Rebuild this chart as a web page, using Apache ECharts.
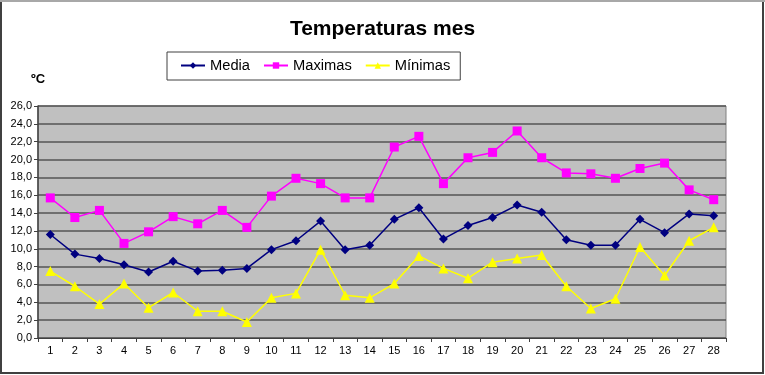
<!DOCTYPE html>
<html>
<head>
<meta charset="utf-8">
<script src="https://cdn.jsdelivr.net/npm/echarts@6/dist/echarts.min.js"></script>
<style>
html,body{margin:0;padding:0;background:#fff;}
#chart{width:765px;height:375px;}
</style>
</head>
<body>
<div id="chart"></div>
<script>
const days = ['1','2','3','4','5','6','7','8','9','10','11','12','13','14','15','16','17','18','19','20','21','22','23','24','25','26','27','28'];
const media = [11.6,9.4,8.9,8.2,7.4,8.6,7.5,7.6,7.8,9.9,10.9,13.1,9.9,10.4,13.3,14.6,11.1,12.6,13.5,14.9,14.1,11.0,10.4,10.4,13.3,11.8,13.9,13.7];
const maximas = [15.7,13.5,14.3,10.6,11.9,13.6,12.8,14.3,12.4,15.9,17.9,17.3,15.7,15.7,21.4,22.6,17.3,20.2,20.8,23.2,20.2,18.5,18.4,17.9,19.0,19.6,16.6,15.5];
const minimas = [7.5,5.8,3.8,6.1,3.4,5.1,3.0,3.0,1.8,4.5,5.0,9.9,4.8,4.5,6.1,9.2,7.8,6.7,8.5,8.9,9.3,5.8,3.3,4.4,10.2,7.0,10.9,12.4];
const seriesNames = ['Media','Maximas','Mínimas'];
const titleText = 'Temperaturas mes';
const unitLabel = 'ºC';

const font = "'Liberation Sans', Arial, sans-serif";
const chart = echarts.init(document.getElementById('chart'), null, {renderer:'canvas'});
chart.setOption({
  animation:false,
  backgroundColor:'#fff',
  textStyle:{fontFamily:font},
  graphic:[
    {type:'rect', shape:{x:1,y:1,width:762,height:372}, style:{fill:'none', stroke:'#404040', lineWidth:2}, z:-1},
    {type:'line', shape:{x1:0,y1:1,x2:765,y2:1}, style:{stroke:'#a8a8a8', lineWidth:2}, z:-1},
    {type:'text', left:31, top:73, style:{text:unitLabel, font:"bold 13px 'Liberation Sans', Arial, sans-serif", fill:'#000'}}
  ],
  title:{
    text:titleText, left:'center', top:14,
    textStyle:{fontFamily:font, fontSize:21, fontWeight:'bold', color:'#000'}
  },
  legend:{
    data:seriesNames, left:167, top:52,
    padding:[6,10,7,13], itemGap:13, itemWidth:24, itemHeight:8,
    borderColor:'#404040', borderWidth:1, backgroundColor:'#fff',
    textStyle:{fontFamily:font, fontSize:14.7, color:'#000'}
  },
  grid:{
    left:38, right:39, top:106, bottom:37, containLabel:false,
    show:true, backgroundColor:'#c0c0c0', borderColor:'#808080', borderWidth:1
  },
  xAxis:{
    type:'category', data:days, boundaryGap:true,
    axisLine:{lineStyle:{color:'#404040', width:1}},
    axisTick:{show:true, interval:0, length:4, lineStyle:{color:'#404040'}},
    axisLabel:{interval:0, color:'#000', fontSize:11, fontFamily:font, margin:7}
  },
  yAxis:{
    type:'value', min:0, max:26, interval:2,
    axisLine:{show:true, lineStyle:{color:'#404040', width:1.5}},
    axisTick:{show:true, length:4, lineStyle:{color:'#404040'}},
    axisLabel:{color:'#000', fontSize:11, fontFamily:font, margin:6,
      formatter:v=>v.toFixed(1).replace('.',',')},
    splitLine:{show:true, lineStyle:{color:'#555', width:1.6}}
  },
  series:[
    {name:seriesNames[0], type:'line', data:media, symbol:'diamond', symbolSize:9,
     itemStyle:{color:'#000080'}, lineStyle:{color:'#000080', width:1.5}},
    {name:seriesNames[1], type:'line', data:maximas, symbol:'rect', symbolSize:9,
     itemStyle:{color:'#ff00ff'}, lineStyle:{color:'#ff00ff', width:1.5}},
    {name:seriesNames[2], type:'line', data:minimas, symbol:'triangle', symbolSize:10,
     itemStyle:{color:'#ffff00'}, lineStyle:{color:'#ffff00', width:1.5}}
  ]
});
</script>
</body>
</html>
